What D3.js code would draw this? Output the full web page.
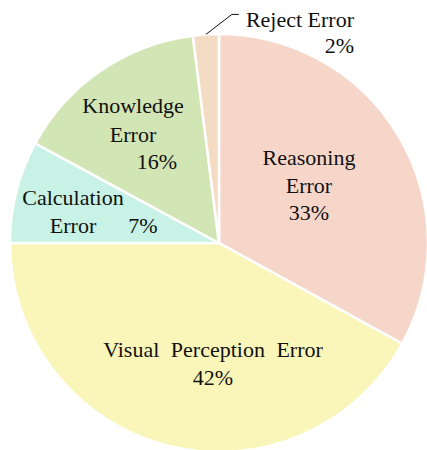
<!DOCTYPE html>
<html>
<head>
<meta charset="utf-8">
<script src="https://cdn.jsdelivr.net/npm/d3@7"></script>
<style>
  html, body { margin: 0; padding: 0; background: #fff; }
  svg { display: block; }
</style>
</head>
<body>
<svg id="pie"></svg>
<script>
// slices, clockwise from 12 o'clock (angles)
const categories = ["Reasoning Error", "Visual Perception Error", "Calculation Error", "Knowledge Error", "Reject Error"];
const shares = [33, 42, 7.9, 15.1, 2];
const percentLabels = ["33%", "42%", "7%", "16%", "2%"];
const colors = ["#f7d6ca", "#faf6b9", "#c7f2e5", "#d2e5b5", "#f4dbc4"];

const width = 427, height = 450;
const cx = 219, cy = 243, radius = 209;
const font = "'Liberation Serif', 'Tinos', 'DejaVu Serif', serif";

const svg = d3.select("#pie").attr("width", width).attr("height", height);
const g = svg.append("g").attr("transform", `translate(${cx},${cy})`);

const pie = d3.pie().value((d) => d.value).sort(null);
const arc = d3.arc().innerRadius(0).outerRadius(radius);
const data = categories.map((c, i) => ({ name: c, value: shares[i], pct: percentLabels[i], color: colors[i] }));
const arcs = pie(data);

g.selectAll("path")
  .data(arcs)
  .enter()
  .append("path")
  .attr("d", arc)
  .attr("fill", (d) => d.data.color)
  .attr("stroke", "#fff")
  .attr("stroke-width", 2.5);

// label lines, offsets from the pie centre: [text, dx, dy, anchor]
const labelLines = {
  "Reasoning Error": [["Reasoning", 90, -78, "middle"], ["Error", 90, -50, "middle"], ["33%", 90, -23, "middle"]],
  "Visual Perception Error": [["Visual Perception Error", -6, 114, "middle"], ["42%", -6, 142, "middle"]],
  "Calculation Error": [["Calculation", -146, -38, "middle"], ["Error", -146, -10, "middle"], ["7%", -76, -10, "middle"]],
  "Knowledge Error": [["Knowledge", -86, -130, "middle"], ["Error", -86, -101, "middle"], ["16%", -62, -74, "middle"]],
  "Reject Error": [["Reject Error", 135, -216, "end"], ["2%", 135, -190, "end"]]
};

arcs.forEach((a) => {
  labelLines[a.data.name].forEach(([t, dx, dy, anchor]) => {
    g.append("text")
      .attr("x", dx)
      .attr("y", dy)
      .attr("text-anchor", anchor)
      .style("font-family", font)
      .style("font-size", "22px")
      .attr("fill", "#111")
      .attr("word-spacing", t.startsWith("Visual") ? 6 : 0)
      .text(t);
  });
});

// leader line for the small slice
const reject = arcs[arcs.length - 1];
const mid = (reject.startAngle + reject.endAngle) / 2;
const p0 = [Math.sin(mid) * radius, -Math.cos(mid) * radius];
g.append("polyline")
  .attr("points", [p0, [p0[0] + 26, p0[1] - 20], [p0[0] + 33, p0[1] - 20]].map((p) => p.join(",")).join(" "))
  .attr("fill", "none")
  .attr("stroke", "#111")
  .attr("stroke-width", 1);
</script>
</body>
</html>
